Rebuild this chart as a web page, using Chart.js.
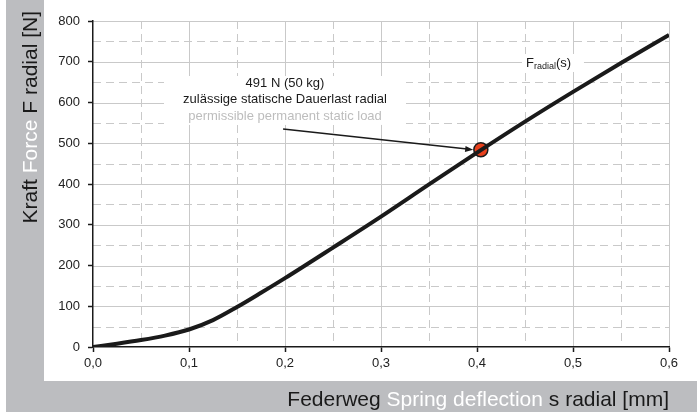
<!DOCTYPE html>
<html>
<head>
<meta charset="utf-8">
<script src="https://cdn.jsdelivr.net/npm/chart.js@4.4.1/dist/chart.umd.min.js"></script>
<style>
  html, body { margin: 0; padding: 0; background: #fff; }
  #wrap { width: 697px; height: 412px; }
</style>
</head>
<body>
<div id="wrap"><canvas id="myChart" width="697" height="412"></canvas></div>
<script>
// Federweg s radial [mm]
const deflection = [0, 0.025, 0.05, 0.075, 0.1, 0.125, 0.15, 0.175, 0.2, 0.25, 0.3, 0.35, 0.4, 0.45, 0.5, 0.55, 0.6];
// Kraft F radial [N]
const forceRadial = [0, 8, 17, 28, 43, 66, 98, 133, 169, 244, 320, 399, 477, 553, 626, 697, 766];
// zulässige statische Dauerlast (Punkt)
const loadPoint = [0.404, 484];
const xTicks = [0, 0.1, 0.2, 0.3, 0.4, 0.5, 0.6];
const yTicks = [0, 100, 200, 300, 400, 500, 600, 700, 800];

const FONT = '"Liberation Sans", Arial, sans-serif';
const GRAY = '#bcbdc0';
const GRID = '#c9c9c9';

function txtParts(ctx, parts, x, y, align) {
  // parts: [text, color] ...
  let total = 0;
  parts.forEach(p => total += ctx.measureText(p[0]).width);
  let cx = align == 'right' ? x - total : (align == 'center' ? x - total / 2 : x);
  ctx.textAlign = 'left';
  parts.forEach(p => {
    ctx.fillStyle = p[1];
    ctx.fillText(p[0], cx, y);
    cx += ctx.measureText(p[0]).width;
  });
}

const deko = {
  id: 'deko',
  beforeDraw(chart) {
    const ctx = chart.ctx;
    const xs = chart.scales.x, ys = chart.scales.y;
    const a = chart.chartArea;
    ctx.save();
    // Hintergrund
    ctx.fillStyle = '#fff';
    ctx.fillRect(0, 0, 697, 412);
    ctx.fillStyle = GRAY;
    ctx.fillRect(6, 0, 691, 412);
    ctx.fillStyle = '#fff';
    ctx.fillRect(44, 0, 653, 381);

    // Gitter
    ctx.lineWidth = 1;
    for (let v = 50; v <= 800; v += 50) {
      const y = Math.round(ys.getPixelForValue(v)) + 0.5;
      ctx.strokeStyle = GRID;
      ctx.setLineDash(v % 100 == 0 ? [] : [8, 5]);
      ctx.beginPath(); ctx.moveTo(a.left, y); ctx.lineTo(a.right, y); ctx.stroke();
    }
    for (let i = 1; i <= 12; i++) {
      const x = Math.round(xs.getPixelForValue(i * 0.05)) + 0.5;
      ctx.setLineDash(i % 2 == 0 ? [] : [8, 5]);
      ctx.beginPath(); ctx.moveTo(x, a.top); ctx.lineTo(x, a.bottom); ctx.stroke();
    }
    ctx.setLineDash([]);

    // Beschriftung Punkt
    ctx.font = '13px ' + FONT;
    ctx.textBaseline = 'middle';
    const cx = xs.getPixelForValue(0.2);
    ctx.fillStyle = '#fff';
    ctx.fillRect(cx - 121, ys.getPixelForValue(665), 242, ys.getPixelForValue(545) - ys.getPixelForValue(665));
    ctx.textAlign = 'center';
    ctx.fillStyle = '#1a1a1a';
    ctx.fillText('491 N (50 kg)', cx, ys.getPixelForValue(648));
    ctx.fillText('zulässige statische Dauerlast radial', cx, ys.getPixelForValue(607));
    ctx.fillStyle = '#bdbdbd';
    ctx.fillText('permissible permanent static load', cx, ys.getPixelForValue(566));

    // Pfeil
    const x1 = xs.getPixelForValue(0.198), y1 = ys.getPixelForValue(535);
    const x2 = xs.getPixelForValue(0.396), y2 = ys.getPixelForValue(484);
    const ang = Math.atan2(y2 - y1, x2 - x1);
    ctx.strokeStyle = '#1a1a1a';
    ctx.lineWidth = 1.5;
    ctx.beginPath(); ctx.moveTo(x1, y1); ctx.lineTo(x2 - 6 * Math.cos(ang), y2 - 6 * Math.sin(ang)); ctx.stroke();
    ctx.fillStyle = '#1a1a1a';
    ctx.beginPath();
    ctx.moveTo(x2, y2);
    ctx.lineTo(x2 - 8 * Math.cos(ang) + 3 * Math.sin(ang), y2 - 8 * Math.sin(ang) - 3 * Math.cos(ang));
    ctx.lineTo(x2 - 8 * Math.cos(ang) - 3 * Math.sin(ang), y2 - 8 * Math.sin(ang) + 3 * Math.cos(ang));
    ctx.closePath(); ctx.fill();

    // F_radial(s)
    const fx = xs.getPixelForValue(0.451), fy = ys.getPixelForValue(697);
    ctx.fillStyle = '#fff';
    ctx.fillRect(fx - 4, fy - 9, 62, 18);
    ctx.fillStyle = '#1a1a1a';
    ctx.textAlign = 'left';
    ctx.font = '13px ' + FONT;
    ctx.fillText('F', fx, fy);
    let w = ctx.measureText('F').width;
    ctx.font = '9px ' + FONT;
    ctx.fillText('radial', fx + w, fy + 4);
    w += ctx.measureText('radial').width;
    ctx.font = '13px ' + FONT;
    ctx.fillText('(s)', fx + w, fy);

    // Achsentitel
    ctx.font = '21px ' + FONT;
    ctx.textBaseline = 'alphabetic';
    txtParts(ctx, [['Federweg ', '#1a1a1a'], ['Spring deflection', '#fff'], [' s radial [mm]', '#1a1a1a']], 669, 406, 'right');
    ctx.translate(37, 0);
    ctx.rotate(-Math.PI / 2);
    txtParts(ctx, [['Kraft ', '#1a1a1a'], ['Force', '#fff'], [' F radial [N]', '#1a1a1a']], -11, 0, 'right');
    ctx.restore();
  }
};

new Chart(document.getElementById('myChart'), {
  type: 'line',
  data: {
    datasets: [{
      label: 'Fradial(s)',
      data: deflection.map((s, i) => ({x: s, y: forceRadial[i]})),
      borderColor: '#1a1a1a',
      borderWidth: 4,
      pointRadius: 0,
      cubicInterpolationMode: 'monotone',
      fill: false
    }, {
      label: '491 N',
      data: [{x: loadPoint[0], y: loadPoint[1]}],
      showLine: false,
      pointRadius: 7,
      pointBackgroundColor: '#e8401c',
      pointBorderColor: '#1a1a1a',
      pointBorderWidth: 1.5
    }]
  },
  options: {
    responsive: false,
    animation: false,
    events: [],
    layout: { padding: { left: 44, right: 28, top: 21, bottom: 35 } },
    plugins: { legend: { display: false }, tooltip: { enabled: false } },
    scales: {
      x: {
        type: 'linear', min: 0, max: 0.6,
        afterFit: s => { s.height = 30; },
        afterBuildTicks: s => { s.ticks = xTicks.map(v => ({value: v})); },
        grid: { drawOnChartArea: false, drawTicks: true, tickLength: 5, tickColor: '#1a1a1a', tickWidth: 1.5 },
        border: { color: '#1a1a1a', width: 1.5 },
        ticks: { color: '#222', padding: 4, font: { family: FONT, size: 13 }, maxRotation: 0,
          callback: v => v.toFixed(1).replace('.', ',') }
      },
      y: {
        type: 'linear', min: 0, max: 800,
        afterFit: s => { s.width = 49; },
        afterBuildTicks: s => { s.ticks = yTicks.map(v => ({value: v})); },
        grid: { drawOnChartArea: false, drawTicks: true, tickLength: 5, tickColor: '#1a1a1a', tickWidth: 1.5 },
        border: { color: '#1a1a1a', width: 1.5 },
        ticks: { color: '#222', padding: 8, font: { family: FONT, size: 13 } }
      }
    }
  },
  plugins: [deko]
});
</script>
</body>
</html>
